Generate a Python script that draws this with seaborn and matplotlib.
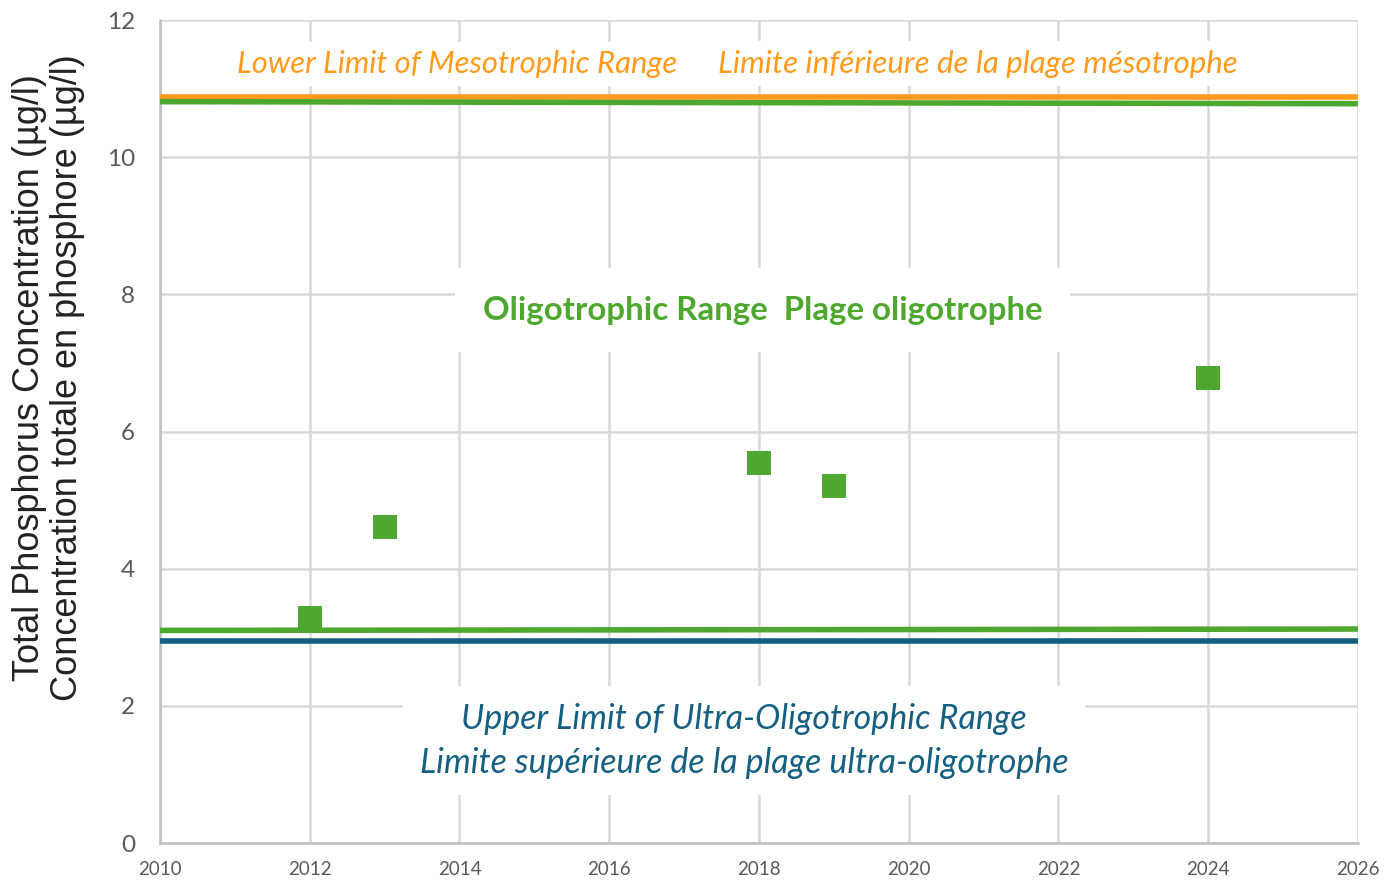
"""
Total phosphorus concentration vs. trophic range thresholds.

Outputs:
    out.png
"""

import pandas as pd
import seaborn as sns
import matplotlib.pyplot as plt


# ---------------------------------------------------------------------
# Data
# ---------------------------------------------------------------------

YEARS = [2012, 2013, 2018, 2019, 2024]
TP_VALUES = [3.28, 4.61, 5.54, 5.20, 6.78]

LINE_YEARS = [2010, 2026]
MESO_LOWER = [10.88, 10.88]
OLIGO_UPPER = [10.81, 10.78]
OLIGO_LOWER = [3.10, 3.12]
ULTRA_UPPER = [2.95, 2.95]

X_TICKS = list(range(2010, 2027, 2))
Y_TICKS = list(range(0, 13, 2))

ORANGE = "#FF9A1A"
GREEN = "#4EA72E"
BLUE = "#156082"
GRID = "#D9D9D9"


def make_plot():
    sns.set_theme(style="white")
    plt.rcParams["font.family"] = ["Lato", "DejaVu Sans"]

    fig = plt.figure(figsize=(13.84, 8.82), dpi=100)
    ax = fig.add_axes([0.1156, 0.0442, 0.8656, 0.9331])

    lines = [
        (MESO_LOWER, ORANGE),
        (OLIGO_UPPER, GREEN),
        (OLIGO_LOWER, GREEN),
        (ULTRA_UPPER, BLUE),
    ]
    for values, color in lines:
        df = pd.DataFrame({"year": LINE_YEARS, "tp": values})
        sns.lineplot(data=df, x="year", y="tp", color=color, lw=4, ax=ax,
                     zorder=3, solid_capstyle="butt")

    pts = pd.DataFrame({"year": YEARS, "tp": TP_VALUES})
    sns.scatterplot(data=pts, x="year", y="tp", marker="s", s=300,
                    color=GREEN, edgecolor="none", ax=ax, zorder=4)

    ax.set_xlim(2010, 2026)
    ax.set_ylim(0, 12)
    ax.set_xticks(X_TICKS)
    ax.set_yticks(Y_TICKS)
    ax.grid(True, color=GRID, lw=1.8, zorder=0)
    ax.set_axisbelow(True)
    for side in ["top", "right"]:
        ax.spines[side].set_visible(False)
    for side in ["left", "bottom"]:
        ax.spines[side].set_color("#BFBFBF")
        ax.spines[side].set_linewidth(1.8)

    ax.tick_params(axis="y", labelsize=17.5, labelcolor="#595959", length=0, pad=18)
    ax.tick_params(axis="x", labelsize=13.5, labelcolor="#595959", length=0, pad=13)

    ax.set_xlabel("")
    ax.set_ylabel(
        "Total Phosphorus Concentration (µg/l)\nConcentration totale en phosphore (µg/l)",
        fontsize=26, color="#222222", family=["Liberation Sans", "DejaVu Sans"],
        linespacing=1.1,
    )
    ax.yaxis.set_label_coords(-0.063, 0.566)

    box = dict(facecolor="white", edgecolor="none", pad=6)
    ax.text(2013.97, 11.36, "Lower Limit of Mesotrophic Range", color=ORANGE,
            fontsize=22.3, style="italic", ha="center", va="center", bbox=box, zorder=5)
    ax.text(2020.92, 11.36, "Limite inférieure de la plage mésotrophe", color=ORANGE,
            fontsize=22.5, style="italic", ha="center", va="center", bbox=box, zorder=5)

    ax.text(2018.05, 7.77, "Oligotrophic Range  Plage oligotrophe", color=GREEN,
            fontsize=23.8, weight="bold", ha="center", va="center",
            bbox=dict(facecolor="white", edgecolor="none", pad=20), zorder=5)

    ax.text(2017.8, 1.49,
            "Upper Limit of Ultra-Oligotrophic Range\nLimite supérieure de la plage ultra-oligotrophe",
            color=BLUE, fontsize=24.5, style="italic", ha="center", va="center",
            linespacing=1.45, bbox=dict(facecolor="white", edgecolor="none", pad=12),
            zorder=5)

    fig.savefig("out.png", dpi=100)
    plt.close(fig)


if __name__ == "__main__":
    make_plot()
